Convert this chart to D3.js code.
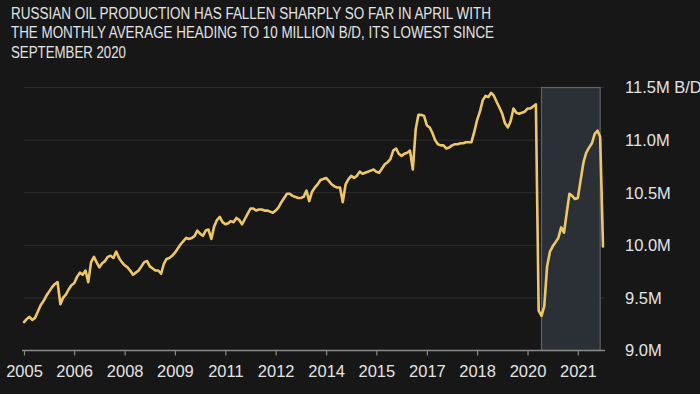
<!DOCTYPE html>
<html>
<head>
<meta charset="utf-8">
<script src="https://cdn.jsdelivr.net/npm/d3@7"></script>
<style>
  html, body { margin: 0; padding: 0; background: #171717; overflow: hidden; }
  text { font-family: "Liberation Sans", Arial, sans-serif; }
</style>
</head>
<body>
<svg id="chart" width="700" height="394"></svg>
<script>
// title lines
const titleLines = [
  "RUSSIAN OIL PRODUCTION HAS FALLEN SHARPLY SO FAR IN APRIL WITH",
  "THE MONTHLY AVERAGE HEADING TO 10 MILLION B/D, ITS LOWEST SINCE",
  "SEPTEMBER 2020"
];

// monthly production, million b/d, from Jan 2005 to Apr 2022
const firstMonth = "2005-01";
const production = [
  9.27, 9.30, 9.32, 9.29, 9.31, 9.37, 9.43, 9.47, 9.52, 9.56, 9.60, 9.63,
  9.65, 9.44, 9.50, 9.53, 9.58, 9.62, 9.64, 9.70, 9.74, 9.72, 9.76, 9.65,
  9.84, 9.89, 9.84, 9.79, 9.83, 9.85, 9.89, 9.90, 9.88, 9.94, 9.88, 9.84,
  9.81, 9.79, 9.76, 9.72, 9.74, 9.76, 9.80, 9.84, 9.85, 9.80, 9.78, 9.76,
  9.76, 9.73, 9.82, 9.87, 9.88, 9.90, 9.93, 9.97, 10.01, 10.04, 10.07, 10.06,
  10.07, 10.09, 10.14, 10.11, 10.09, 10.14, 10.15, 10.06, 10.18, 10.24, 10.27, 10.22,
  10.20, 10.21, 10.23, 10.22, 10.26, 10.24, 10.20, 10.25, 10.30, 10.35, 10.35, 10.33,
  10.34, 10.34, 10.33, 10.33, 10.32, 10.31, 10.33, 10.36, 10.41, 10.45, 10.49, 10.49,
  10.47, 10.46, 10.45, 10.45, 10.46, 10.52, 10.42, 10.51, 10.55, 10.58, 10.62, 10.63,
  10.64, 10.61, 10.58, 10.56, 10.55, 10.55, 10.41, 10.58, 10.63, 10.66, 10.64, 10.66,
  10.70, 10.68, 10.69, 10.70, 10.71, 10.72, 10.70, 10.69, 10.73, 10.77, 10.79, 10.82,
  10.90, 10.92, 10.87, 10.85, 10.87, 10.88, 10.90, 10.72, 11.10, 11.24, 11.24, 11.23,
  11.14, 11.12, 11.07, 11.00, 10.96, 10.95, 10.95, 10.92, 10.93, 10.95, 10.96, 10.96,
  10.97, 10.97, 10.98, 10.98, 10.98, 11.08, 11.19, 11.27, 11.38, 11.42, 11.41, 11.45,
  11.42, 11.36, 11.31, 11.25, 11.16, 11.12, 11.18, 11.30, 11.26, 11.25, 11.26, 11.27,
  11.30, 11.30, 11.32, 11.34, 9.38, 9.33, 9.42, 9.80, 9.94, 9.99, 10.03, 10.07,
  10.17, 10.12, 10.30, 10.49, 10.47, 10.44, 10.45, 10.62, 10.79, 10.88, 10.93, 10.97,
  11.06, 11.09, 11.03, 9.99
];

// x ticks every 18 months
const tickMonths = ["2005-01", "2006-07", "2008-01", "2009-07", "2011-01", "2012-07",
                    "2014-01", "2015-07", "2017-01", "2018-07", "2020-01", "2021-07"];
const yTicks = [9.0, 9.5, 10.0, 10.5, 11.0, 11.5];
const yUnit = " B/D";

// highlighted window
const shadeFrom = "2020-06";
const shadeTo = "2022-03";

const parseMonth = d3.timeParse("%Y-%m");
const start = parseMonth(firstMonth);
const data = production.map((v, i) => ({date: d3.timeMonth.offset(start, i), value: v}));

const svg = d3.select("#chart");

const x = d3.scaleTime()
    .domain(d3.extent(data, d => d.date))
    .range([24, 603]);
const y = d3.scaleLinear()
    .domain([9.0, 11.5])
    .range([350.5, 87.5]);

// title
svg.append("g").selectAll("text")
  .data(titleLines)
  .enter().append("text")
    .attr("x", 11)
    .attr("y", (d, i) => 18.5 + i * 19.6)
    .attr("fill", "#e4e4e4")
    .attr("font-size", 15.8)
    .text(d => d)
    .each(function(d, i) {
      const widths = [480, 483, 115];
      d3.select(this).attr("textLength", widths[i]).attr("lengthAdjust", "spacingAndGlyphs");
    });

// gridlines
svg.append("g").selectAll("line")
  .data(yTicks.slice(1))
  .enter().append("line")
    .attr("x1", 24).attr("x2", 604)
    .attr("y1", d => y(d)).attr("y2", d => y(d))
    .attr("stroke", "#2e2e2e")
    .attr("stroke-width", 1);

// shaded window
svg.append("rect")
    .attr("x", x(parseMonth(shadeFrom)))
    .attr("y", y(11.5))
    .attr("width", x(parseMonth(shadeTo)) - x(parseMonth(shadeFrom)))
    .attr("height", y(9.0) - y(11.5))
    .attr("fill", "#2c3038")
    .attr("fill-opacity", 0.95)
    .attr("stroke", "#5d6169")
    .attr("stroke-width", 1.2);

// right axis labels
svg.append("g").selectAll("text")
  .data(yTicks)
  .enter().append("text")
    .attr("x", 625)
    .attr("y", d => y(d))
    .attr("dy", "0.36em")
    .attr("fill", "#e4e4e4")
    .attr("font-size", 16.5)
    .text(d => d.toFixed(1) + "M" + (d === 11.5 ? yUnit : ""));

// x axis
const xAxis = d3.axisBottom(x)
    .tickValues(tickMonths.map(parseMonth))
    .tickFormat(d3.timeFormat("%Y"))
    .tickSize(5)
    .tickPadding(10);

const gx = svg.append("g")
    .attr("transform", "translate(0,350.5)")
    .call(xAxis);
gx.select(".domain").remove();
gx.append("line")
    .attr("x1", 22).attr("x2", 605)
    .attr("stroke", "#8a8a8a")
    .attr("stroke-width", 1.3);
gx.selectAll(".tick line").attr("stroke", "#8a8a8a").attr("stroke-width", 1.2);
gx.selectAll(".tick text")
    .attr("fill", "#e4e4e4")
    .attr("font-size", 16.5)
    .attr("font-family", "Liberation Sans, Arial, sans-serif");

// production line
const line = d3.line()
    .x(d => x(d.date))
    .y(d => y(d.value));

svg.append("path")
    .datum(data)
    .attr("fill", "none")
    .attr("stroke", "#efc866")
    .attr("stroke-width", 2.6)
    .attr("stroke-linejoin", "round")
    .attr("stroke-linecap", "round")
    .attr("d", line);
</script>
</body>
</html>
